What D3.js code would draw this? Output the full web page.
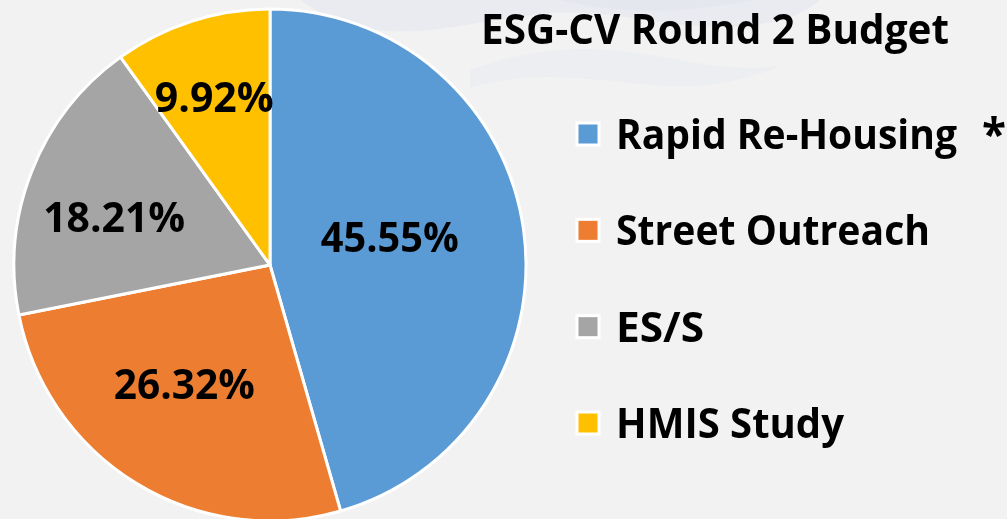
<!DOCTYPE html>
<html>
<head>
<meta charset="utf-8">
<script src="https://cdn.jsdelivr.net/npm/d3@7/dist/d3.min.js"></script>
<style>
  html, body { margin: 0; padding: 0; background: #f2f2f2; }
  svg { display: block; }
  text { font-family: "Open Sans", "DejaVu Sans", sans-serif; font-weight: 700; fill: #000; }
</style>
</head>
<body>
<svg id="chart" width="1007" height="519"></svg>
<script>
// ---- data ----
const categories = ["Rapid Re-Housing", "Street Outreach", "ES/S", "HMIS Study"];
const values = [45.55, 26.32, 18.21, 9.92];
const valueLabels = ["45.55%", "26.32%", "18.21%", "9.92%"];
const colors = ["#5b9bd5", "#ed7d31", "#a5a5a5", "#ffc000"];
const title = "ESG-CV Round 2 Budget";
const legendNote = "*";

// ---- layout / style ----
const W = 1007, H = 519;
const cx = 270, cy = 265, R = 256;
const labelRadius = [123, 147, 163, 177];
const labelAngleTweak = [-5, 4.3, -4.5, -0.5]; // degrees
const labelWidths = [138, 141, 142, 119];
const legendWidths = [341, 314, 88, 228];

const svg = d3.select("#chart");

// background
svg.append("rect").attr("width", W).attr("height", H).attr("fill", "#f2f2f2");

// faint watermark waves
const wm = svg.append("g").attr("fill", "#e3e7ef").attr("opacity", 0.6);
wm.append("path").attr("d", "M300,0 L820,0 C800,18 760,30 700,26 C640,22 600,8 540,14 C480,20 430,36 380,30 C340,26 320,14 300,0 Z");
wm.append("path").attr("d", "M470,70 C520,52 570,44 630,52 C690,60 720,72 780,66 C740,84 690,90 640,84 C580,78 530,70 470,88 Z").attr("opacity", 0.5);
wm.append("path").attr("d", "M560,0 C600,10 650,14 700,8 C720,6 740,2 760,0 Z").attr("fill", "#dbe1ec");

// pie
const pie = d3.pie().sort(null).value(d => d)(values);
const arc = d3.arc().innerRadius(0).outerRadius(R);

const g = svg.append("g").attr("transform", `translate(${cx},${cy})`);
g.selectAll("path.slice")
  .data(pie)
  .join("path")
  .attr("class", "slice")
  .attr("d", arc)
  .attr("fill", (d, i) => colors[i])
  .attr("stroke", "#ffffff")
  .attr("stroke-width", 3)
  .attr("stroke-linejoin", "round");

// slice labels
const fs = 42, capH = fs * 0.714;
g.selectAll("text.val")
  .data(pie)
  .join("text")
  .attr("class", "val")
  .attr("text-anchor", "middle")
  .attr("font-size", fs)
  .attr("textLength", (d, i) => labelWidths[i])
  .attr("lengthAdjust", "spacingAndGlyphs")
  .attr("x", (d, i) => {
    const a = (d.startAngle + d.endAngle) / 2 + labelAngleTweak[i] * Math.PI / 180;
    return labelRadius[i] * Math.sin(a);
  })
  .attr("y", (d, i) => {
    const a = (d.startAngle + d.endAngle) / 2 + labelAngleTweak[i] * Math.PI / 180;
    return -labelRadius[i] * Math.cos(a) + capH / 2;
  })
  .text((d, i) => valueLabels[i]);

// title
svg.append("text")
  .attr("x", 481).attr("y", 44)
  .attr("font-size", 42)
  .attr("textLength", 468)
  .attr("lengthAdjust", "spacingAndGlyphs")
  .text(title);

// legend
const legendY = d3.scalePoint().domain(categories).range([149, 438]);
const lg = svg.append("g");
const items = lg.selectAll("g.item").data(categories).join("g").attr("class", "item");
items.append("rect")
  .attr("x", 577).attr("width", 22).attr("height", 22)
  .attr("y", d => legendY(d) - capH / 2 - 11)
  .attr("fill", (d, i) => colors[i])
  .attr("stroke", "#ffffff").attr("stroke-width", 3);
items.append("text")
  .attr("x", 616)
  .attr("y", d => legendY(d))
  .attr("font-size", 42)
  .attr("textLength", (d, i) => legendWidths[i])
  .attr("lengthAdjust", "spacingAndGlyphs")
  .text(d => d);

svg.append("text")
  .attr("x", 994).attr("y", 150)
  .attr("text-anchor", "middle")
  .attr("font-size", 44)
  .text(legendNote);
</script>
</body>
</html>
